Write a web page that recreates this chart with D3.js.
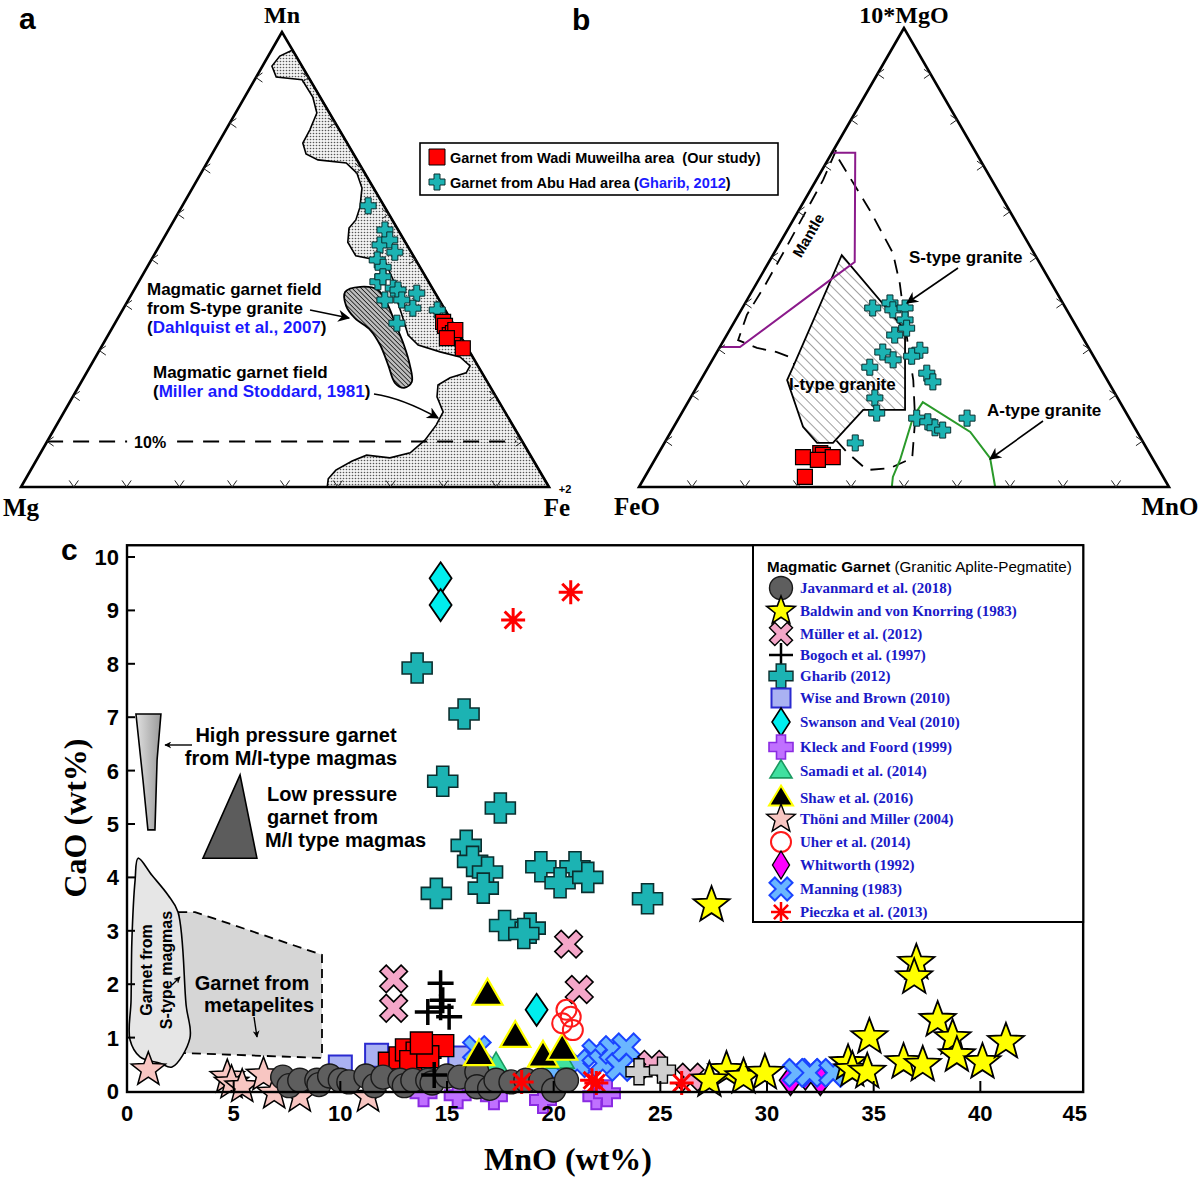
<!DOCTYPE html>
<html><head><meta charset="utf-8">
<script src="https://cdn.jsdelivr.net/npm/d3@7"></script>
<style>body{margin:0;background:#fff}svg{display:block}</style>
</head><body>
<svg id="fig" width="1200" height="1178"></svg>
<script>
// ================= DATA =================
// Panel a: points/fields as [Mn%, Fe%] (Mg = 100 - Mn - Fe)
const aVertexLabels = ["Mn", "Mg", "Fe"];
const aGharib = [[61.8,35.2],[56.5,41.0],[53.2,41.7],[54.3,43.0],[51.6,45.3],[49.9,42.8],[48.3,44.7],[45.1,45.3],[46.2,45.7],[43.7,48.9],[43.3,50.0],[41.1,48.6],[41.1,51.8],[42.6,53.9],[39.3,54.8],[36.0,53.4],[38.9,59.6]];
const aOurStudy = [[36.3,62.0],[35.4,62.8],[33.4,64.7],[33.8,65.1],[34.5,65.2],[32.7,64.5],[30.5,68.6]];
const aMillerField = [[96.0,3.9],[94.7,2.2],[92.5,1.8],[90.1,3.8],[89.5,9.0],[85.7,12.9],[82.2,15.4],[78.5,15.9],[75.6,16.0],[73.2,17.8],[71.9,20.7],[71.2,26.4],[69.0,29.5],[65.7,32.1],[61.5,33.8],[58.7,34.4],[56.9,34.0],[53.8,35.3],[50.8,38.3],[49.5,44.5],[45.5,48.0],[41.1,50.9],[37.1,54.0],[33.4,56.8],[31.2,59.8],[29.7,64.7],[28.6,69.0],[26.6,71.9],[25.1,71.9],[24.0,69.4],[22.4,67.9],[19.8,69.0],[16.5,71.8],[13.6,71.9],[10.3,71.4],[7.5,70.0],[6.4,66.7],[7.0,62.0],[5.7,59.9],[3.7,57.8],[1.8,57.3],[0,58.0],[0,100],[96.3,3.7]];
const aDahlquistField = [[42.9,40.2],[44.0,42.5],[43.3,46.2],[40.0,49.7],[35.6,53.4],[31.2,57.1],[26.8,60.4],[23.1,62.6],[21.8,61.8],[22.9,59.5],[26.8,56.3],[31.2,52.6],[34.5,49.1],[37.1,44.9],[39.8,41.9]];
const aTenPercent = 10;
const aLegendLabels = ["Garnet from Wadi Muweilha area  (Our study)", "Garnet from Abu Had area (", "Gharib, 2012", ")"];

// Panel b: points/lines as [10*MgO %, MnO %] (FeO = rest)
const bVertexLabels = ["10*MgO", "FeO", "MnO"];
const bGharib = [[39.0,24.6],[40.1,27.3],[38.6,28.6],[39.0,30.7],[36.4,32.0],[34.6,33.2],[33.1,31.7],[29.4,31.3],[27.7,34.1],[26.1,30.5],[29.8,38.1],[28.5,37.2],[24.8,41.9],[22.9,44.0],[19.4,34.8],[16.1,36.8],[9.6,36.0],[15.0,44.9],[14.2,47.4],[12.9,49.4],[12.4,51.1],[15.0,54.4]];
const bOurStudy = [[6.5,27.7],[7.4,30.5],[7.0,31.2],[6.5,33.3],[5.9,30.8],[2.2,30.2]];
const bMantleLine = [[72.8,0],[72.8,4.4],[49.0,16.2],[45.5,13.8],[30.5,3.8],[30.5,0]];
const bDashedLine = [[73.4,0.5],[66.9,1.3],[58.8,1.5],[51.6,1.7],[44.0,1.8],[37.5,1.6],[32.0,2.7],[30.3,7.1],[29.4,11.3],[28.3,14.3],[26.6,16.1],[19.0,20.9],[7.6,35.4],[3.7,41.2],[4.1,45.3],[6.3,48.4],[14.6,44.8],[23.3,40.1],[30.9,35.3],[44.4,27.0],[51.0,22.4],[60.3,13.4],[71.7,1.7]];
const bITypeField = [[50.5,13.0],[34.2,33.1],[16.8,41.8],[16.8,33.9],[9.6,31.8],[9.6,28.8],[13.1,24.4],[23.3,16.3],[26.1,16.0]];
const bATypeLine = [[0,47.7],[2.2,46.8],[5.9,46.3],[15.3,44.1],[18.5,44.3],[12.0,56.5],[6.3,63.1],[0,67.2]];

// Panel c: [MnO wt%, CaO wt%]
const cXTicks = [0,5,10,15,20,25,30,35,40,45];
const cYTicks = [0,1,2,3,4,5,6,7,8,9,10];
const cHighPressure = [[0.42,7.06],[1.59,7.06],[1.41,6.2],[1.31,4.89],[0.98,4.89],[0.75,5.82]];
const cLowPressure = [[5.3,5.92],[6.09,4.36],[3.56,4.36]];
const cSTypeField = [[0.52,4.36],[1.17,4.04],[1.92,3.67],[2.39,3.35],[2.77,1.61],[2.95,0.99],[2.11,0.45],[1.55,0.52],[0.61,0.64],[0.14,0.96],[0.19,1.70],[0.23,2.83],[0.38,3.95]];
const cMetapeliteField = [[2.4,3.35],[3.19,3.35],[9.14,2.55],[9.14,0.62],[2.63,0.71]];
const cLegendNames = ["Javanmard et al. (2018)","Baldwin and von Knorring (1983)","Müller et al. (2012)","Bogoch et al. (1997)","Gharib (2012)","Wise and Brown (2010)","Swanson and Veal (2010)","Kleck and Foord (1999)","Samadi et al. (2014)","Shaw et al. (2016)","Thöni and Miller (2004)","Uher et al. (2014)","Whitworth (1992)","Manning (1983)","Pieczka et al. (2013)"];
const javanmard = [[7.3,0.26],[7.6,0.1],[8.1,0.2],[8.9,0.2],[9.0,0.12],[9.5,0.28],[10.0,0.2],[10.4,0.17],[11.2,0.28],[11.6,0.1],[12.0,0.26],[12.8,0.2],[13.0,0.1],[13.4,0.2],[14.1,0.2],[14.3,0.15],[15.0,0.28],[15.6,0.26],[16.4,0.36],[16.4,0.08],[17.0,0.05],[17.3,0.2],[18.0,0.17],[18.7,0.2],[19.4,0.2],[20.0,0.02],[20.6,0.2]];
const baldwin = [[27.4,3.48],[37.0,2.4],[36.9,2.13],[38.0,1.33],[38.7,0.99],[38.9,0.67],[40.1,0.54],[41.2,0.92],[34.8,1.01],[36.4,0.54],[37.3,0.49],[33.8,0.52],[34.0,0.39],[34.7,0.36],[28.1,0.39],[28.9,0.26],[29.9,0.34],[27.3,0.2]];
const muller = [[12.5,2.1],[12.5,1.55],[20.7,2.75],[21.2,1.9],[26.4,0.26],[24.6,0.5]];
const bogoch = [[14.7,2.02],[14.8,1.7],[14.1,1.48],[14.7,1.57],[15.1,1.39],[14.4,0.3]];
const gharib = [[13.6,7.92],[15.8,7.06],[14.8,5.8],[17.5,5.3],[15.9,4.6],[16.2,4.3],[16.9,4.1],[14.5,3.7],[16.7,3.8],[19.4,4.2],[21.0,4.2],[20.3,3.9],[21.6,4.0],[17.7,3.1],[18.9,3.05],[18.6,2.95],[24.4,3.6]];
const wise = [[10.0,0.45],[11.7,0.67],[15.6,0.62]];
const swanson = [[14.7,9.6],[14.7,9.1],[19.2,1.52]];
const kleck = [[13.9,-0.04],[15.5,-0.08],[17.2,-0.1],[19.5,-0.17],[22.0,-0.1],[22.5,-0.04]];
const samadi = [[17.3,0.45],[20.3,0.6]];
const shaw = [[16.9,1.8],[18.2,1.01],[16.5,0.67],[19.5,0.64],[20.4,0.77]];
const thoni = [[1.0,0.4],[4.7,0.26],[4.9,0.15],[5.4,0.08],[6.4,0.3],[6.9,-0.04],[8.1,-0.1],[11.3,-0.1]];
const uher = [[20.6,1.52],[20.8,1.39],[20.4,1.27],[20.9,1.14]];
const whitworth = [[31.1,0.2],[32.5,0.2],[31.8,0.3]];
const manning = [[16.4,0.77],[19.8,0.45],[21.1,0.52],[22.0,0.71],[22.3,0.52],[22.8,0.77],[23.1,0.45],[23.4,0.82],[31.4,0.34],[32.0,0.34],[33.1,0.34]];
const pieczka = [[18.1,8.82],[20.8,9.34],[18.5,0.17],[22.0,0.15],[21.8,0.2],[26.0,0.15]];
const grayCross = [[24.0,0.36],[25.1,0.39]];
const ourStudyC = [[12.3,0.52],[12.8,0.62],[13.1,0.77],[13.6,0.71],[13.3,0.55],[14.2,0.82],[14.8,0.85],[14.1,0.64],[13.8,0.9]];

// ================= HELPERS =================
const SANS = "'Liberation Sans', Arial, sans-serif";
const SERIF = "'Liberation Serif', 'Times New Roman', serif";
const svg = d3.select("#fig");
const defs = svg.append("defs");

const stip = defs.append("pattern").attr("id","stipple").attr("width",3).attr("height",3).attr("patternUnits","userSpaceOnUse");
stip.append("rect").attr("width",3).attr("height",3).attr("fill","#f2f2f2");
stip.append("circle").attr("cx",1.5).attr("cy",1.5).attr("r",0.8).attr("fill","#555");
const h1 = defs.append("pattern").attr("id","hatchDark").attr("width",3.2).attr("height",3.2).attr("patternUnits","userSpaceOnUse").attr("patternTransform","rotate(-45)");
h1.append("rect").attr("width",3.2).attr("height",3.2).attr("fill","#bdbdbd");
h1.append("line").attr("x1",0).attr("y1",0).attr("x2",0).attr("y2",3.2).attr("stroke","#111").attr("stroke-width",1.5);
const h2 = defs.append("pattern").attr("id","hatchLight").attr("width",7).attr("height",7).attr("patternUnits","userSpaceOnUse").attr("patternTransform","rotate(-45)");
h2.append("rect").attr("width",7).attr("height",7).attr("fill","#fff");
h2.append("line").attr("x1",0).attr("y1",0).attr("x2",0).attr("y2",7).attr("stroke","#444").attr("stroke-width",1);
const grad = defs.append("linearGradient").attr("id","hpGrad").attr("x1",0).attr("x2",1);
grad.append("stop").attr("offset","0%").attr("stop-color","#e0e0e0");
grad.append("stop").attr("offset","100%").attr("stop-color","#9a9a9a");
const mk = defs.append("marker").attr("id","arrow").attr("viewBox","0 0 10 10").attr("refX",9).attr("refY",5)
  .attr("markerWidth",7).attr("markerHeight",7).attr("orient","auto").attr("markerUnits","userSpaceOnUse");
mk.append("path").attr("d","M0,0L10,5L0,10L3,5Z").attr("fill","#000");
const mk2 = defs.append("marker").attr("id","arrowBig").attr("viewBox","0 0 10 10").attr("refX",9).attr("refY",5)
  .attr("markerWidth",14).attr("markerHeight",12).attr("orient","auto").attr("markerUnits","userSpaceOnUse");
mk2.append("path").attr("d","M0,0L10,5L0,10L3,5Z").attr("fill","#000");

function plusPath(s,t){return `M${-t},${-s}H${t}V${-t}H${s}V${t}H${t}V${s}H${-t}V${t}H${-s}V${-t}H${-t}Z`;}
function xPath(s,t){
  const pts=[[-t,-s],[t,-s],[t,-t],[s,-t],[s,t],[t,t],[t,s],[-t,s],[-t,t],[-s,t],[-s,-t],[-t,-t]];
  const c=Math.SQRT1_2;
  return "M"+pts.map(p=>[(p[0]-p[1])*c,(p[0]+p[1])*c].map(v=>v.toFixed(2)).join(",")).join("L")+"Z";
}
function starPath(R){
  const r=R*0.42, p=[];
  for(let i=0;i<10;i++){const a=-Math.PI/2+i*Math.PI/5, rr=i%2?r:R; p.push([rr*Math.cos(a),rr*Math.sin(a)]);}
  return "M"+p.map(q=>q.map(v=>v.toFixed(2)).join(",")).join("L")+"Z";
}
function diamondPath(w,h){return `M0,${-h/2}L${w/2},0L0,${h/2}L${-w/2},0Z`;}
function triPath(w,h){return `M0,${-h*0.62}L${w/2},${h*0.38}L${-w/2},${h*0.38}Z`;}
function sqPath(s){return `M${-s/2},${-s/2}h${s}v${s}h${-s}Z`;}
function thinPlus(s){return `M${-s},0H${s}M0,${-s}V${s}`;}
function asterisk(r){let d="";for(let i=0;i<4;i++){const a=i*Math.PI/4;d+=`M${(-r*Math.cos(a)).toFixed(2)},${(-r*Math.sin(a)).toFixed(2)}L${(r*Math.cos(a)).toFixed(2)},${(r*Math.sin(a)).toFixed(2)}`;}return d;}
function circlePath(r){return `M${-r},0a${r},${r} 0 1,0 ${2*r},0a${r},${r} 0 1,0 ${-2*r},0Z`;}

function drawPts(g, data, px, d, fill, stroke, sw){
  g.selectAll(null).data(data).enter().append("path")
    .attr("transform", p=>{const q=px(p);return `translate(${q[0]},${q[1]})`;})
    .attr("d", d).attr("fill", fill).attr("stroke", stroke).attr("stroke-width", sw).attr("stroke-linejoin","miter");
}
function txt(g,x,y,s,opts={}){
  const t=g.append("text").attr("x",x).attr("y",y).text(s)
    .attr("font-family",opts.family||SANS).attr("font-size",opts.size||15)
    .attr("font-weight",opts.weight||"bold").attr("fill",opts.fill||"#000")
    .attr("text-anchor",opts.anchor||"start").style("white-space","pre");
  if(opts.rotate!==undefined) t.attr("transform",`rotate(${opts.rotate},${x},${y})`);
  return t;
}

function ternary(A,B,C){
  const yTop = d3.scaleLinear().domain([0,100]).range([B[1],A[1]]);
  const xTop = d3.scaleLinear().domain([0,100]).range([0,A[0]-B[0]]);
  const xRight = d3.scaleLinear().domain([0,100]).range([0,C[0]-B[0]]);
  return p => [B[0]+xTop(p[0])+xRight(p[1]), yTop(p[0])];
}
function ternFrame(g, A,B,C, T){
  g.append("path").attr("d",`M${A}L${B}L${C}Z`).attr("fill","none").attr("stroke","#000").attr("stroke-width",2.6).attr("stroke-linejoin","miter");
  const L=8, ang=35*Math.PI/180;
  const ticks=[];
  for(let i=1;i<10;i++){
    ticks.push({p:T([i*10,0]),d:[1,0]});
    ticks.push({p:T([0,i*10]),d:[0,-1]});
    ticks.push({p:T([i*10,100-i*10]),d:[-1,0]});
  }
  g.selectAll(null).data(ticks).enter().append("path")
    .attr("d",t=>{
      const [dx,dy]=t.d; const c=Math.cos(ang), s=Math.sin(ang);
      const a1=[t.p[0]+L*(dx*c-dy*s), t.p[1]+L*(dx*s+dy*c)];
      const a2=[t.p[0]+L*(dx*c+dy*s), t.p[1]+L*(-dx*s+dy*c)];
      return `M${a1}L${t.p}L${a2}`;
    }).attr("fill","none").attr("stroke","#222").attr("stroke-width",1);
}
const line = d3.line();
const lineClosed = d3.line().curve(d3.curveLinearClosed);
const smoothClosed = d3.line().curve(d3.curveCatmullRomClosed.alpha(0.5));

// ================= PANEL A =================
const ga = svg.append("g");
const aA=[282,32], aB=[21,487], aC=[549,487];
const TA = ternary(aA,aB,aC);
ga.append("path").attr("d", lineClosed(aMillerField.map(TA))).attr("fill","url(#stipple)").attr("stroke","#000").attr("stroke-width",1.6);
ga.append("path").attr("d", smoothClosed(aDahlquistField.map(TA))).attr("fill","url(#hatchDark)").attr("stroke","#000").attr("stroke-width",1.8);
const d10a = TA([aTenPercent,0]), d10b = TA([aTenPercent,100-aTenPercent]);
ga.append("line").attr("x1",d10a[0]).attr("y1",d10a[1]).attr("x2",d10b[0]-6).attr("y2",d10b[1])
  .attr("stroke","#000").attr("stroke-width",1.8).attr("stroke-dasharray","16,10");
ga.append("rect").attr("x",d10a[0]+80).attr("y",d10a[1]-11).attr("width",46).attr("height",22).attr("fill","#fff");
txt(ga,d10a[0]+103,d10a[1]+6,aTenPercent+"%",{anchor:"middle",size:16});
ternFrame(ga,aA,aB,aC,TA);
drawPts(ga,aGharib,TA,plusPath(8,3),"#1cb3b3","#0b2f2f",1);
drawPts(ga,aOurStudy,TA,sqPath(15),"#ff0000","#000",1.2);
txt(ga,aA[0],23,aVertexLabels[0],{family:SERIF,size:24,anchor:"middle"});
txt(ga,aB[0],516,aVertexLabels[1],{family:SERIF,size:25,anchor:"middle"});
txt(ga,aC[0]+8,516,aVertexLabels[2],{family:SERIF,size:25,anchor:"middle"});
txt(ga,aC[0]+16,493,"+2",{size:11,anchor:"middle"});
txt(ga,19,29,"a",{size:30});
txt(ga,147,295,"Magmatic garnet field",{size:17});
txt(ga,147,314,"from S-type granite",{size:17});
const dq = txt(ga,147,333,"(",{size:17});
dq.append("tspan").attr("fill","#1a1aff").text("Dahlquist et al., 2007");
dq.append("tspan").text(")");
ga.append("line").attr("x1",310).attr("y1",310).attr("x2",349).attr("y2",318).attr("stroke","#000").attr("stroke-width",1.6).attr("marker-end","url(#arrowBig)");
txt(ga,153,378,"Magmatic garnet field",{size:17});
const ms = txt(ga,153,397,"(",{size:17});
ms.append("tspan").attr("fill","#1a1aff").text("Miller and Stoddard, 1981");
ms.append("tspan").text(")");
ga.append("path").attr("d","M374,394Q402,398 438,418").attr("fill","none").attr("stroke","#000").attr("stroke-width",1.6).attr("marker-end","url(#arrowBig)");
ga.append("rect").attr("x",420).attr("y",143).attr("width",358).attr("height",52).attr("fill","#fff").attr("stroke","#000").attr("stroke-width",1.6);
ga.append("path").attr("transform","translate(437,157)").attr("d",sqPath(16)).attr("fill","#ff0000").attr("stroke","#000").attr("stroke-width",1);
txt(ga,450,163,aLegendLabels[0],{size:14.5});
ga.append("path").attr("transform","translate(437,182)").attr("d",plusPath(8,3)).attr("fill","#1cb3b3").attr("stroke","#0b2f2f").attr("stroke-width",1);
const lg2 = txt(ga,450,188,aLegendLabels[1],{size:14.5});
lg2.append("tspan").attr("fill","#1a1aff").text(aLegendLabels[2]);
lg2.append("tspan").text(aLegendLabels[3]);

// ================= PANEL B =================
const gb = svg.append("g");
const bA=[904,28], bB=[639,487], bC=[1169,487];
const TB = ternary(bA,bB,bC);
gb.append("path").attr("d", line(bDashedLine.map(TB))).attr("fill","none").attr("stroke","#000").attr("stroke-width",1.8).attr("stroke-dasharray","14,9");
gb.append("path").attr("d", lineClosed(bITypeField.map(TB))).attr("fill","url(#hatchLight)").attr("stroke","#000").attr("stroke-width",1.8);
gb.append("path").attr("d", line(bMantleLine.map(TB))).attr("fill","none").attr("stroke","#8b1a8b").attr("stroke-width",2);
gb.append("path").attr("d", line(bATypeLine.map(TB))).attr("fill","none").attr("stroke","#2a9a2a").attr("stroke-width",2);
ternFrame(gb,bA,bB,bC,TB);
drawPts(gb,bGharib,TB,plusPath(8,3),"#1cb3b3","#0b2f2f",1);
drawPts(gb,bOurStudy,TB,sqPath(15),"#ff0000","#000",1.2);
txt(gb,bA[0],23,bVertexLabels[0],{family:SERIF,size:24,anchor:"middle"});
txt(gb,bB[0]-2,515,bVertexLabels[1],{family:SERIF,size:25,anchor:"middle"});
txt(gb,bC[0]+1,515,bVertexLabels[2],{family:SERIF,size:25,anchor:"middle"});
txt(gb,572,30,"b",{size:30});
txt(gb,813,238,"Mantle",{size:15,anchor:"middle",rotate:-60});
txt(gb,909,263,"S-type granite",{size:17});
gb.append("line").attr("x1",958).attr("y1",268).attr("x2",907).attr("y2",303).attr("stroke","#000").attr("stroke-width",1.6).attr("marker-end","url(#arrowBig)");
txt(gb,789,390,"I-type granite",{size:17});
txt(gb,987,416,"A-type granite",{size:17});
gb.append("line").attr("x1",1043).attr("y1",421).attr("x2",990).attr("y2",459).attr("stroke","#000").attr("stroke-width",1.6).attr("marker-end","url(#arrowBig)");

// ================= PANEL C =================
const gc = svg.append("g");
const x = d3.scaleLinear().domain([0,45]).range([127,1087]);
const y = d3.scaleLinear().domain([0,10]).range([1091,557]);
const P = p => [x(p[0]), y(p[1])];
const frameL = x(0), frameR = x(44.82), frameT = y(10.22), frameB = y(0)+1;

gc.append("path").attr("d", lineClosed(cMetapeliteField.map(P))).attr("fill","#d6d6d6").attr("stroke","#000").attr("stroke-width",1.8).attr("stroke-dasharray","9,6");
gc.append("path").attr("d", smoothClosed(cSTypeField.map(P))).attr("fill","#e6e6e6").attr("stroke","#000").attr("stroke-width",1.6);
gc.append("path").attr("d", lineClosed(cHighPressure.map(P))).attr("fill","url(#hpGrad)").attr("stroke","#000").attr("stroke-width",1.6);
gc.append("path").attr("d", lineClosed(cLowPressure.map(P))).attr("fill","#5c5c5c").attr("stroke","#000").attr("stroke-width",1.6);

txt(gc,296,742,"High pressure garnet",{size:20,anchor:"middle"});
txt(gc,291,765,"from M/I-type magmas",{size:20,anchor:"middle"});
gc.append("line").attr("x1",192).attr("y1",745).attr("x2",165).attr("y2",745).attr("stroke","#000").attr("stroke-width",1.4).attr("marker-end","url(#arrow)");
txt(gc,267,801,"Low pressure",{size:20});
txt(gc,267,824,"garnet from",{size:20});
txt(gc,265,847,"M/I type magmas",{size:20});
txt(gc,252,990,"Garnet from",{size:20,anchor:"middle"});
txt(gc,259,1012,"metapelites",{size:20,anchor:"middle"});
gc.append("line").attr("x1",254).attr("y1",1017).attr("x2",257).attr("y2",1037).attr("stroke","#000").attr("stroke-width",1.4).attr("marker-end","url(#arrow)");
txt(gc,152,970,"Garnet from",{size:16,anchor:"middle",rotate:-90});
txt(gc,172,970,"S-type magmas",{size:16,anchor:"middle",rotate:-90});
gc.append("line").attr("x1",172).attr("y1",985).attr("x2",180).attr("y2",977).attr("stroke","#000").attr("stroke-width",1.2).attr("marker-end","url(#arrow)");

drawPts(gc,wise,P,sqPath(23),"#aab2f2","#2a2ad0",2);
drawPts(gc,thoni,P,starPath(18),"#f8c6c2","#000",1.5);
drawPts(gc,kleck,P,plusPath(13,5),"#c070ff","#8a2be2",2);
drawPts(gc,manning,P,xPath(15,4.5),"#6ab6ff","#1a44ff",2);
drawPts(gc,muller,P,xPath(15,4.5),"#f4a6c8","#000",1.6);
drawPts(gc,grayCross,P,plusPath(13,5),"#cfcfcf","#000",1.4);
drawPts(gc,samadi,P,triPath(28,24),"#40e0a0","#1a9a60",1.6);
drawPts(gc,ourStudyC,P,sqPath(22),"#ff0000","#000",1.4);
drawPts(gc,javanmard,P,circlePath(12),"#5e5e5e","#1a1a1a",1.4);
drawPts(gc,shaw,P,triPath(30,26),"#000","#ffff00",2.2);
drawPts(gc,bogoch,P,thinPlus(13),"none","#000",3.5);
drawPts(gc,uher,P,circlePath(10),"none","#ff1a1a",2);
drawPts(gc,swanson,P,diamondPath(22,32),"#00eeee","#000",1.8);
drawPts(gc,whitworth,P,diamondPath(22,30),"#ff00ff","#000",1.6);
drawPts(gc,manning.slice(8),P,xPath(15,4.5),"#6ab6ff","#1a44ff",2);
drawPts(gc,baldwin,P,starPath(19),"#ffff00","#000",1.8);
drawPts(gc,pieczka,P,asterisk(12),"none","#ff0000",3);
drawPts(gc,gharib,P,plusPath(15,6),"#1cb3b3","#0b2f2f",1.6);

gc.append("rect").attr("x",frameL).attr("y",frameT).attr("width",frameR-frameL).attr("height",frameB-frameT)
  .attr("fill","none").attr("stroke","#000").attr("stroke-width",2.4);
gc.selectAll(null).data(cXTicks.filter(v=>v>0&&v<45)).enter().append("line")
  .attr("x1",d=>x(d)).attr("x2",d=>x(d)).attr("y1",frameB).attr("y2",frameB-11).attr("stroke","#000").attr("stroke-width",2);
gc.selectAll(null).data(cYTicks.filter(v=>v>0)).enter().append("line")
  .attr("x1",frameL).attr("x2",frameL+8).attr("y1",d=>y(d)).attr("y2",d=>y(d)).attr("stroke","#000").attr("stroke-width",2);
gc.selectAll(null).data(cXTicks).enter().append("text")
  .attr("x",d=>x(d)).attr("y",1121).text(d=>d)
  .attr("text-anchor",d=>d===45?"end":"middle").attr("font-family",SANS).attr("font-weight","bold").attr("font-size",22);
gc.selectAll(null).data(cYTicks).enter().append("text")
  .attr("x",119).attr("y",d=>y(d)+8).text(d=>d)
  .attr("text-anchor","end").attr("font-family",SANS).attr("font-weight","bold").attr("font-size",22);
txt(gc,568,1170,"MnO (wt%)",{family:SERIF,size:32,anchor:"middle"});
txt(gc,86,818,"CaO (wt%)",{family:SERIF,size:32,anchor:"middle",rotate:-90});
txt(gc,61,560,"c",{size:30});

const lg = gc.append("g");
lg.append("rect").attr("x",753).attr("y",frameT).attr("width",frameR-753).attr("height",922-frameT).attr("fill","#fff").attr("stroke","#000").attr("stroke-width",2);
const lt = txt(lg,767,572,"Magmatic Garnet ",{size:15.2});
lt.append("tspan").attr("font-weight","normal").text("(Granitic Aplite-Pegmatite)");
const legY = [588,611,634,655,676,698,722,747,771,798,819,842,865,889,912];
const legSym = [
  [circlePath(11.5),"#5e5e5e","#1a1a1a",1.4],
  [starPath(15),"#ffff00","#000",1.6],
  [xPath(12.5,3.8),"#f4a6c8","#000",1.4],
  [thinPlus(12),"none","#000",2.5],
  [plusPath(12,4.8),"#1cb3b3","#0b2f2f",1.4],
  [sqPath(19),"#aab2f2","#2a2ad0",2],
  [diamondPath(18,28),"#00eeee","#000",1.6],
  [plusPath(12,4.5),"#c070ff","#8a2be2",1.6],
  [triPath(22,18),"#40e0a0","#1a9a60",1.6],
  [triPath(24,20),"#000","#ffff00",2],
  [starPath(15),"#f8c6c2","#000",1.4],
  [circlePath(10),"none","#ff1a1a",2],
  [diamondPath(17,28),"#ff00ff","#000",1.4],
  [xPath(12.5,3.8),"#6ab6ff","#1a44ff",2],
  [asterisk(10),"none","#ff0000",2.5]
];
cLegendNames.forEach((n,i)=>{
  const s = legSym[i];
  lg.append("path").attr("transform",`translate(781,${legY[i]})`).attr("d",s[0]).attr("fill",s[1]).attr("stroke",s[2]).attr("stroke-width",s[3]);
  txt(lg,800,legY[i]+5,n,{family:SERIF,size:15,fill:"#1a1ac8"});
});
</script>
</body></html>
